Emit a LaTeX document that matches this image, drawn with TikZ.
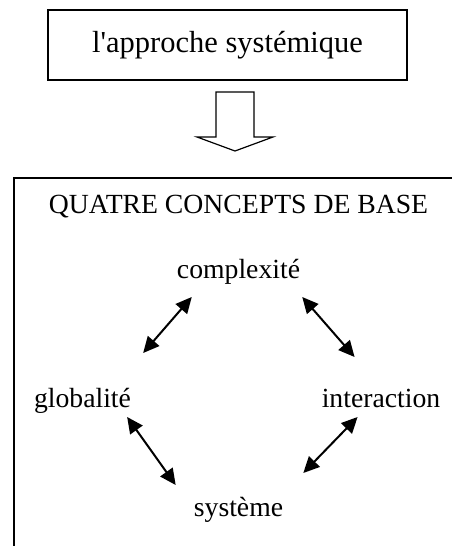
\documentclass[tikz,border=0pt]{standalone}
\usepackage{fontspec}
\setmainfont{Liberation Serif}
\newfontfamily\droitfont{Liberation Serif}
\usetikzlibrary{arrows.meta}

\begin{document}
\begin{tikzpicture}[x=1pt,y=-1pt,
    concept/.style={inner sep=0pt,anchor=base,font=\fontsize{27.7}{30}\selectfont},
    lien/.style={{Triangle[length=16pt,width=15pt]}-{Triangle[length=16pt,width=15pt]},line width=2pt}]
    \useasboundingbox (0,0) rectangle (452,546);
    \clip (0,0) rectangle (452,546);
    \node[draw,line width=2pt,minimum width=359pt,minimum height=70pt,
        font=\droitfont\fontsize{30.5}{33}\selectfont] (approche) at (227.5,45) {l'approche systémique};
    % grosse fleche vers le bas
    \draw[line width=1.2pt] (216,92) -- (254,92) -- (254,137) -- (273,137)
        -- (235,151) -- (197,137) -- (216,137) -- cycle;
    % cadre (coupe a droite et en bas)
    \draw[line width=2pt] (14,600) |- (520,178);
    \node[concept] (titre) at (238.5,213) {QUATRE CONCEPTS DE BASE};
    \node[concept] (comp) at (238.5,278) {complexité};
    \node[concept] (glob) at (82.5,407) {globalité};
    \node[concept] (inter) at (381,407) {interaction};
    \node[concept] (syst) at (238.5,516) {système};
    \draw[lien] ([shift={(15,19)}]comp.base west) -- ([shift={(12,-54)}]glob.base east);
    \draw[lien] ([shift={(2,19)}]comp.base east) -- ([shift={(33,-50)}]inter.base west);
    \draw[lien] ([shift={(-4,10)}]glob.base east) -- ([shift={(-18,-31)}]syst.base west);
    \draw[lien] ([shift={(36,10)}]inter.base west) -- ([shift={(20,-43)}]syst.base east);
\end{tikzpicture}
\end{document}
